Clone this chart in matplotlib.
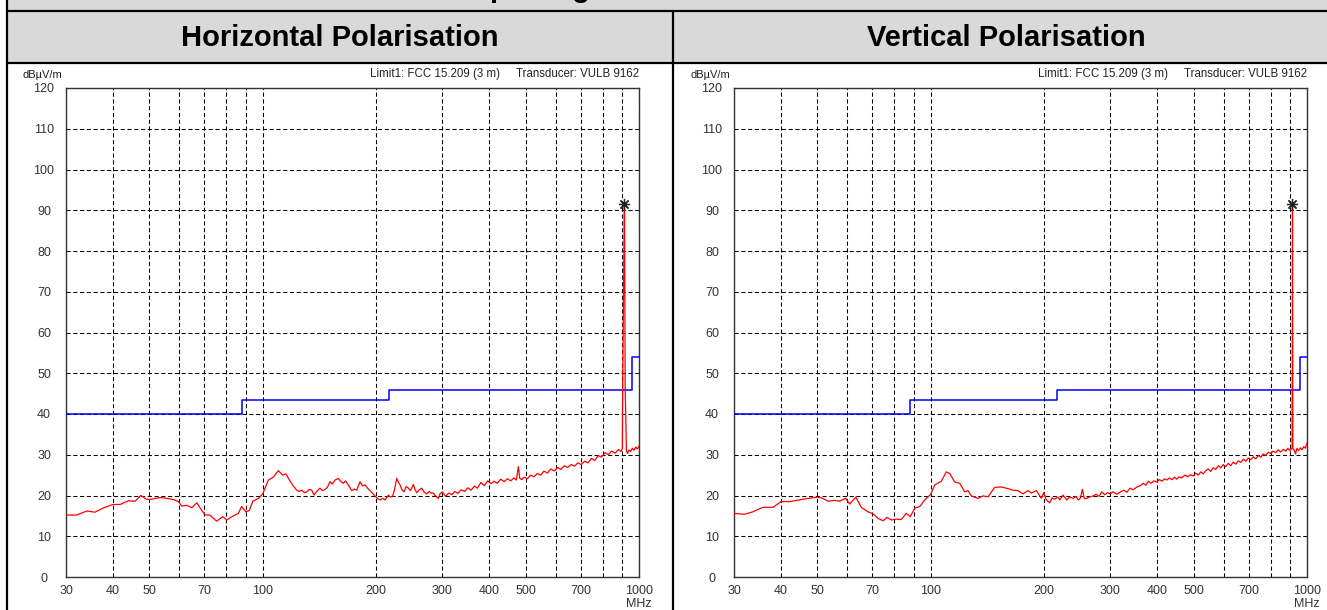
import matplotlib
matplotlib.use('Agg')
import matplotlib.pyplot as plt
from matplotlib.patches import Rectangle
from matplotlib.lines import Line2D
from matplotlib.ticker import FixedLocator, FixedFormatter, NullFormatter

plt.rcParams['font.family'] = ['Liberation Sans', 'DejaVu Sans']

# ---------------- data ----------------
page_title = 'Test Setup 1 Tag'
panel_titles = ['Horizontal Polarisation', 'Vertical Polarisation']
header_text = 'Limit1: FCC 15.209 (3 m)     Transducer: VULB 9162'
y_unit = 'dB\u00b5V/m'
x_unit = 'MHz'

x_tick_values = [30, 40, 50, 70, 100, 200, 300, 400, 500, 700, 1000]
x_tick_labels = ['30', '40', '50', '70', '100', '200', '300', '400', '500', '700', '1000']
x_minor_grid = [60, 80, 90, 600, 800, 900]
y_tick_values = [0, 10, 20, 30, 40, 50, 60, 70, 80, 90, 100, 110, 120]

limit_freq = [30, 88, 216, 960, 1000]
limit_level = [40, 43.5, 46, 54, 54]

peak_freq = [915]
peak_level = [91.5]

# (frequency MHz, level dBuV/m)
h_points = [(30, 15.2), (32, 15.2), (34.1, 16.2), (35.8, 15.9), (37.6, 16.9), (40, 17.8),
            (41.8, 17.8), (43.9, 18.7), (45.8, 18.6), (47.4, 20.0), (49.1, 19.1), (50, 19.0),
            (53.3, 19.5), (55.6, 19.3), (57.9, 19.0), (59.7, 18.5), (60.9, 17.4), (62.8, 17.6),
            (64.8, 17.0), (66.8, 18.2), (68.9, 16.3), (70.3, 15.2), (72.4, 15.2), (75.4, 13.7),
            (78.3, 14.8), (80.2, 14.0), (83.5, 15.0), (86.1, 15.6), (87.9, 17.3), (90.1, 16.0),
            (92.1, 16.3), (94.1, 18.6), (97.4, 19.3), (100, 20.4), (103.5, 23.8), (106.7, 24.5),
            (110, 26.1), (113, 25.0), (115.3, 25.3), (117.7, 23.8), (120, 22.6), (123.1, 21.3),
            (125, 21.0), (127, 21.3), (129, 20.7), (130.9, 20.9), (133, 21.5), (135, 21.3),
            (136.9, 20.1), (139, 21.0), (142, 21.8), (144, 21.2), (146.4, 21.5), (148.5, 22.0),
            (150.9, 23.4), (153, 22.8), (155.6, 23.8), (158.8, 24.2), (161, 23.5), (163.8, 23.0),
            (166, 23.6), (168.8, 22.6), (172.4, 21.2), (175, 21.6), (177.7, 21.3), (181.4, 23.4),
            (184, 22.4), (187, 22.6), (190, 21.8), (192.8, 21.2), (195.5, 20.6), (198.8, 19.9),
            (202, 19.2), (205, 18.9), (208, 19.3), (211.4, 18.9), (215.7, 20.1), (218.5, 19.6),
            (221.6, 19.9), (224, 21.5), (227, 24.2), (229, 23.4), (231.7, 22.6), (234.5, 21.4),
            (237.4, 20.9), (240.5, 22.2), (243.8, 21.8), (247, 21.2), (251.3, 22.7), (254, 21.4),
            (256.6, 20.7), (260, 21.3), (264.6, 21.8), (268.5, 20.8), (272.8, 20.4), (277, 21.0),
            (280, 20.6), (284, 20.6), (288, 19.9), (292.9, 19.3), (296, 20.4), (300, 20.9),
            (306, 19.8), (312, 20.6), (318, 20.2), (324, 21.0), (330, 20.5), (337, 21.4),
            (344, 21.0), (351, 21.9), (358, 21.3), (365, 22.3), (372, 21.8), (380, 23.2),
            (388, 22.4), (396, 23.6), (404, 22.9), (412, 23.5), (420, 23.0), (429, 24.0),
            (438, 23.4), (447, 24.1), (456, 23.6), (465, 24.3), (472, 23.8), (478, 27.1),
            (482, 24.2), (488, 23.9), (495, 24.5), (505, 24.1), (515, 25.0), (526, 24.6),
            (537, 25.4), (548, 25.0), (559, 26.0), (571, 25.5), (583, 26.5), (595, 26.0),
            (607, 26.9), (620, 26.4), (633, 27.3), (646, 26.9), (660, 27.6), (674, 27.2),
            (688, 28.0), (702, 27.6), (717, 28.4), (732, 28.0), (747, 29.1), (763, 28.6),
            (779, 29.8), (795, 29.4), (812, 30.5), (829, 30.0), (846, 30.9), (864, 30.4),
            (882, 31.3), (895, 30.8), (903, 31.5), (905, 46.0), (914, 91.5), (915, 91.5),
            (919, 46.0), (926, 31.0), (932, 30.3), (940, 31.2), (950, 30.8), (960, 31.6),
            (970, 31.1), (980, 31.9), (990, 31.4), (1000, 32.1)]

# (frequency MHz, level dBuV/m)
v_points = [(30, 15.6), (32, 15.4), (33.7, 16.0), (35.8, 17.1), (38.1, 17.1), (40, 18.5),
            (42.2, 18.5), (45.8, 19.1), (50, 19.6), (51.7, 19.3), (53.3, 18.6), (55.6, 18.8),
            (57.3, 18.6), (59.4, 19.3), (60.9, 17.9), (63.2, 19.6), (65.4, 17.1), (68.1, 16.0),
            (70.3, 15.5), (72.4, 14.4), (74.7, 13.8), (76.5, 14.6), (78.6, 14.0), (81, 14.2),
            (83.5, 14.1), (86.1, 15.6), (88.2, 14.8), (90.7, 16.9), (93.5, 17.3), (96.4, 18.9),
            (100, 20.3), (102.5, 22.6), (106.7, 23.5), (110, 25.8), (112.3, 25.4), (115.8, 23.3),
            (119.4, 23.0), (123.1, 20.9), (125.6, 21.2), (128.2, 19.9), (133.5, 19.3),
            (137.7, 19.9), (142, 19.7), (147.9, 22.0), (154, 22.1), (158.8, 21.8), (165.5, 21.3),
            (170.6, 21.2), (175.9, 20.4), (181.4, 21.2), (185.1, 20.6), (190.8, 21.2), (194, 20.2),
            (196.8, 19.3), (199.7, 20.7), (202.9, 18.9), (207.2, 18.2), (210, 19.4), (213.6, 19.1),
            (218, 19.6), (220.2, 18.9), (224.7, 20.1), (229.9, 18.9), (234, 19.6), (239.3, 19.3),
            (243, 19.8), (246.8, 18.9), (250, 19.4), (252.9, 21.5), (256, 19.2), (259.8, 19.3),
            (265, 19.7), (270.5, 19.9), (275, 20.3), (280, 19.8), (284.8, 20.9), (290, 20.2),
            (295, 20.7), (299.5, 20.4), (305, 20.9), (312, 20.3), (318.5, 20.8), (326, 21.3),
            (332, 20.8), (338.6, 21.8), (345, 21.4), (352, 22.0), (360, 22.4), (367, 23.0),
            (373, 22.5), (378.7, 23.5), (385, 23.0), (392, 23.6), (398.7, 23.3), (405, 23.9),
            (412, 23.5), (418, 24.1), (423.8, 23.8), (431, 24.3), (438, 23.9), (444, 24.5),
            (450.5, 24.0), (457, 24.6), (464, 24.3), (474, 25.0), (482, 24.6), (490, 25.1),
            (498.7, 24.8), (506, 25.5), (514, 25.0), (522, 25.8), (530, 25.3), (538, 26.1),
            (546, 26.5), (555, 25.9), (563, 26.8), (572, 26.4), (581, 27.3), (590, 26.8),
            (599, 27.6), (608, 27.1), (618, 27.9), (627, 27.3), (637, 28.2), (647, 27.7),
            (657, 28.5), (667, 28.1), (677, 28.9), (688, 28.4), (698, 29.2), (709, 28.8),
            (720, 29.5), (731, 29.0), (742, 29.8), (754, 29.4), (765, 30.2), (777, 29.8),
            (789, 30.6), (801, 30.3), (813, 30.9), (826, 30.5), (838, 31.2), (851, 30.7),
            (865, 31.3), (878, 30.9), (890, 31.6), (900, 31.0), (908, 31.4), (913, 31.5),
            (915, 91.5), (917, 31.5), (924, 31.2), (932, 30.2), (940, 31.6), (950, 31.0),
            (960, 31.7), (970, 31.2), (980, 32.0), (990, 31.6), (1000, 32.9)]

traces = [h_points, v_points]

# ---------------- layout ----------------
W, H = 1327, 610
fig = plt.figure(figsize=(W / 100, H / 100), dpi=100)
fig.patch.set_facecolor('white')


def fx(x):
    return x / W


def fy(y):
    return 1 - y / H


grey = '#d9d9d9'
fig.add_artist(Rectangle((fx(6), fy(62)), fx(W - 6), 62 / H, transform=fig.transFigure,
                         facecolor=grey, edgecolor='none', zorder=0))

# page title row (its text is cut by the top edge, as in the source)
fig.text(fx(361), fy(-3), page_title, fontsize=21, fontweight='bold', ha='left',
         va='baseline', color='black')

for x0, x1, y0, y1 in [(6, W, 10.5, 10.5), (6, W, 62.5, 62.5),
                       (6.5, 6.5, 0, H), (673, 673, 10.5, H)]:
    fig.add_artist(Line2D([fx(x0), fx(x1)], [fy(y0), fy(y1)], transform=fig.transFigure,
                          color='black', lw=1.6, solid_capstyle='butt', zorder=5))

for title, cx in zip(panel_titles, [340, 1006]):
    fig.text(fx(cx), fy(46.5), title, fontsize=21, fontweight='bold', ha='center',
             va='baseline', color='black')

axes_left = [66, 734]
for points, left in zip(traces, axes_left):
    freq = [p[0] for p in points]
    level = [p[1] for p in points]
    ax = fig.add_axes([fx(left), fy(577), 573 / W, 489 / H])
    ax.set_xscale('log')
    ax.set_xlim(30, 1000)
    ax.set_ylim(0, 120)
    ax.xaxis.set_major_locator(FixedLocator(x_tick_values))
    ax.xaxis.set_major_formatter(FixedFormatter(x_tick_labels))
    ax.xaxis.set_minor_locator(FixedLocator(x_minor_grid))
    ax.xaxis.set_minor_formatter(NullFormatter())
    ax.yaxis.set_major_locator(FixedLocator(y_tick_values))
    ax.set_yticklabels([str(v) for v in y_tick_values])
    ax.tick_params(axis='both', which='both', length=0, labelsize=9, labelcolor='#333333')
    ax.tick_params(axis='x', pad=6)
    ax.tick_params(axis='y', pad=15.8)
    for lab in ax.get_yticklabels():
        lab.set_horizontalalignment('center')
    ax.grid(True, which='both', color='black', lw=0.75, linestyle=(0, (4, 2.5)))
    for sp in ax.spines.values():
        sp.set_color('#333333')
        sp.set_linewidth(1.0)
    ax.step(limit_freq, limit_level, where='post', color='#0000ff', lw=1.1, zorder=3)
    ax.plot(freq, level, color='#ff0000', lw=0.9, zorder=4)
    ax.plot(peak_freq, peak_level, linestyle='none', marker=(8, 2, 0), markersize=8,
            color='#222222', markeredgewidth=0.9, zorder=5, clip_on=False)
    ax.annotate(x_unit, xy=(1000, 0), xycoords=('data', 'axes fraction'),
                xytext=(0, -19.5), textcoords='offset points', ha='center', va='center',
                fontsize=9, color='#333333', annotation_clip=False)
    ax.annotate(y_unit, xy=(0, 1), xycoords='axes fraction', xytext=(-17.3, 9.4),
                textcoords='offset points', ha='center', va='center', fontsize=8,
                color='#222222', annotation_clip=False)
    ax.annotate(header_text, xy=(1, 1), xycoords='axes fraction', xytext=(0, 10),
                textcoords='offset points', ha='right', va='center', fontsize=8.3,
                color='#222222', annotation_clip=False)

fig.savefig('out.png', dpi=100, facecolor='white')
